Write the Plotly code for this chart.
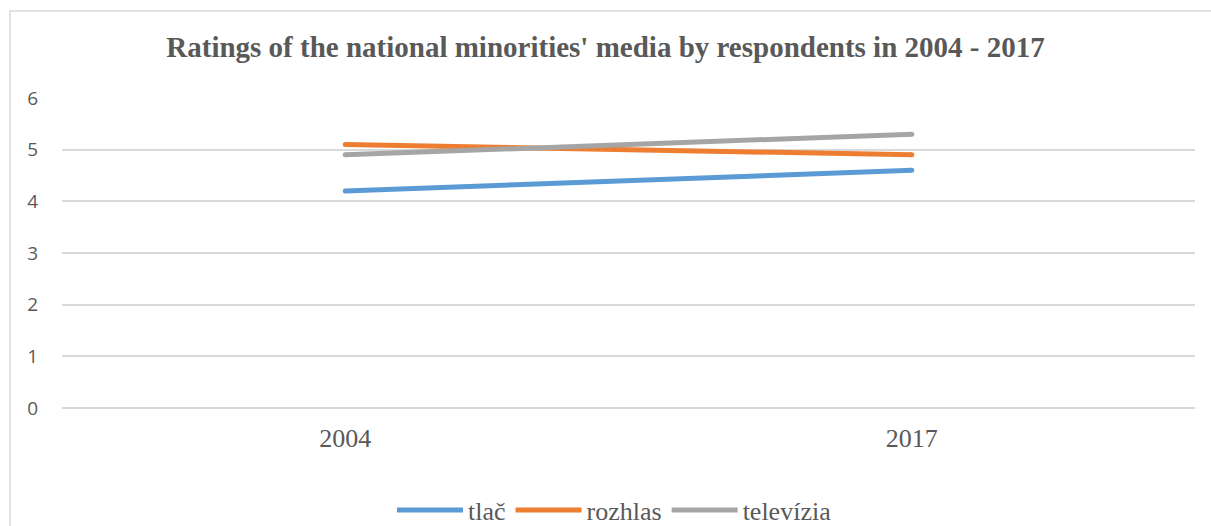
import plotly.graph_objects as go

# Survey years and mean ratings per media type
years = ["2004", "2017"]
tlac = [4.2, 4.6]
rozhlas = [5.1, 4.9]
televizia = [4.9, 5.3]

series_names = ["tlač", "rozhlas", "televízia"]
series_values = [tlac, rozhlas, televizia]
series_colors = ["#5b9bd5", "#ed7d31", "#a5a5a5"]
line_w = 5

SERIF = "Liberation Serif, Times New Roman, serif"

fig = go.Figure()
for name, vals, col in zip(series_names, series_values, series_colors):
    fig.add_trace(go.Scatter(
        x=years, y=vals, name=name, mode="lines",
        line=dict(color=col, width=line_w),
    ))
    # rounded line ends
    fig.add_trace(go.Scatter(
        x=years, y=vals, mode="markers", showlegend=False, hoverinfo="skip",
        marker=dict(color=col, size=line_w, line=dict(width=0)),
    ))

W, H = 1211, 526
ml, mr, mt, mb = 62, 16, 98, 118
pw, ph = W - ml - mr, H - mt - mb

def px_x(p):
    return (p - ml) / pw

def px_y(p):
    return (H - mb - p) / ph

fig.update_layout(
    width=W, height=H,
    margin=dict(l=ml, r=mr, t=mt, b=mb, autoexpand=False),
    paper_bgcolor="white", plot_bgcolor="white",
    font=dict(family=SERIF, color="#595959"),
    title=dict(
        text="<b>Ratings of the national minorities' media by respondents in 2004 - 2017</b>",
        font=dict(family=SERIF, size=29, color="#595959"),
        x=0.5, xanchor="center", y=1 - 47 / H, yanchor="middle",
    ),
    xaxis=dict(
        type="category", range=[-0.5, 1.5],
        showgrid=False, zeroline=False, showline=False, ticks="",
        tickfont=dict(family=SERIF, size=26, color="#595959"),
        ticklabelstandoff=12,
    ),
    yaxis=dict(
        range=[0, 6], dtick=1, tick0=0,
        showgrid=True, gridcolor="#d9d9d9", gridwidth=1.5,
        zeroline=True, zerolinecolor="#d9d9d9", zerolinewidth=1.5,
        showline=False, ticks="",
        tickfont=dict(family="Open Sans", size=19, color="#595959"),
        ticklabelstandoff=23,
    ),
    legend=dict(
        orientation="h", x=0.5 - 14 / pw, xanchor="center",
        y=px_y(510), yanchor="middle",
        font=dict(family=SERIF, size=26, color="#595959"),
        itemwidth=66, tracegroupgap=0,
    ),
    shapes=[
        dict(type="rect", xref="paper", yref="paper",
             x0=px_x(10), x1=px_x(1240), y0=px_y(560), y1=px_y(11),
             line=dict(color="#d9d9d9", width=1.5), layer="below"),
    ],
)

fig.write_html("out.html")
